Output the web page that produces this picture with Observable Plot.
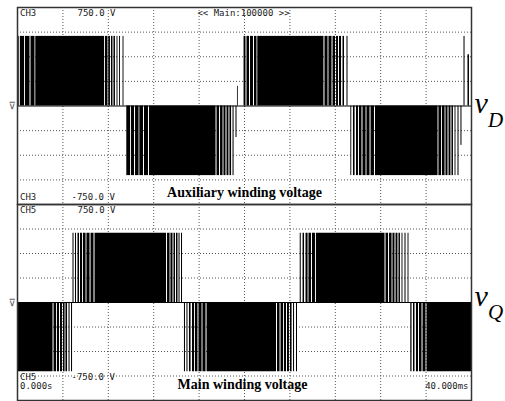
<!DOCTYPE html>
<html><head><meta charset="utf-8">
<script src="https://cdn.jsdelivr.net/npm/d3@7"></script>
<script src="https://cdn.jsdelivr.net/npm/@observablehq/plot@0.6"></script>
<style>html,body{margin:0;padding:0;background:#fff;} #chart svg{display:block;}</style>
</head><body><div id="chart"></div>
<script>
// Time axis: 0–40 ms (4 ms/div), vertical: ±750 V full scale (187.5 V/div)
const xDomain = [0, 40];
const yDomain = [-750, 750];
const gridX = [4, 8, 12, 16, 20, 24, 28, 32, 36];
const gridY = [-562.5, -375, -187.5, 187.5, 375, 562.5];

// Auxiliary winding voltage v_D : [start ms, end ms, volts]
const pulsesD = [
  [0,0.15,530],[0.25,0.62,530],[0.70,1.10,530],[1.19,1.54,530],[1.61,7.67,530],
  [7.75,7.97,530],[8.04,8.19,530],[8.28,8.41,530],[8.50,8.63,530],[8.77,8.85,530],[8.99,9.07,530],[9.30,9.38,530],
  [9.63,9.96,-530],[10.04,10.31,-530],[10.40,10.71,-530],[10.78,11.10,-530],[11.19,11.54,-530],[11.63,17.49,-530],
  [17.58,17.80,-530],[17.89,18.11,-530],[18.19,18.37,-530],[18.46,18.63,-530],[18.72,18.86,-530],[18.99,19.08,-530],[19.25,19.34,-240],
  [19.38,19.45,150],[19.96,20.13,530],[20.22,20.44,530],[20.53,20.79,530],[20.88,21.10,530],[21.17,27.00,530],
  [27.09,27.36,530],[27.44,27.71,530],[27.80,28.02,530],[28.11,28.28,530],[28.37,28.55,530],[28.68,28.81,530],[29.03,29.12,530],
  [29.37,29.45,-530],[29.60,29.74,-530],[29.87,30.04,-530],[30.13,30.35,-530],[30.44,30.71,-530],[30.79,31.06,-530],[31.15,31.45,-530],[31.54,37.05,-530],
  [37.13,37.36,-530],[37.44,37.67,-530],[37.75,37.93,-530],[38.02,38.19,-530],[38.28,38.41,-530],[38.55,38.63,-530],[38.81,38.90,-530],[39.07,39.16,-300],
  [39.34,39.43,530],[39.69,39.82,390]
];

// Main winding voltage v_Q : [start ms, end ms, volts]
const pulsesQ = [
  [0,3.13,-530],[3.22,3.44,-530],[3.52,3.70,-530],[3.79,3.96,-530],[4.05,4.19,-530],[4.27,4.41,-530],[4.54,4.63,-530],[4.76,4.85,-530],
  [4.89,4.98,530],[5.11,5.20,530],[5.33,5.46,530],[5.55,5.73,530],[5.81,6.04,530],[6.12,6.39,530],[6.48,6.74,530],[6.83,13.13,530],
  [13.22,13.44,530],[13.52,13.70,530],[13.79,13.92,530],[14.01,14.14,530],[14.23,14.32,530],[14.45,14.54,530],
  [14.71,14.80,-530],[14.93,15.02,-530],[15.15,15.29,-530],[15.42,15.60,-530],[15.68,15.90,-530],[15.99,16.26,-530],[16.34,16.61,-530],[16.70,22.82,-530],
  [22.91,23.13,-530],[23.22,23.44,-530],[23.52,23.70,-530],[23.79,23.96,-530],[24.05,24.19,-530],[24.32,24.41,-530],[24.58,24.67,-530],
  [24.91,25.00,530],[25.16,25.29,530],[25.42,25.60,530],[25.68,25.90,530],[25.99,26.26,530],[26.34,32.38,530],
  [32.47,32.69,530],[32.78,33.00,530],[33.08,33.26,530],[33.35,33.52,530],[33.61,33.74,530],[33.88,33.96,530],[34.14,34.23,530],[34.41,34.49,530],
  [34.65,34.76,-530],[34.89,35.02,-530],[35.15,35.33,-530],[35.42,35.64,-530],[35.73,35.99,-530],[36.08,40,-530]
];

const chTop = "CH3", chBottom = "CH5";
const scaleTop = "750.0 V", scaleBottom = "-750.0 V";
const timebase = "<< Main:100000 >>";
const tStart = "0.000s", tEnd = "40.000ms";
const titleD = "Auxiliary winding voltage", titleQ = "Main winding voltage";
const symD = ["v", "D"], symQ = ["v", "Q"];
const trigMark = "⊽";

const mono = "DejaVu Sans Mono, monospace";
const serif = "Liberation Serif, Times New Roman, serif";

function monoText(s, o) {
  return Plot.text([s], {text: d => d, fontFamily: mono, fontSize: 9, fill: "#222", lineAnchor: "bottom", textAnchor: "start", ...o});
}

function panel(pulses, height, marginTop, marginBottom, extra) {
  return Plot.plot({
    width: 505, height, marginLeft: 17, marginRight: 34, marginTop, marginBottom,
    x: {domain: xDomain, axis: null},
    y: {domain: yDomain, axis: null},
    style: {background: "white", overflow: "visible"},
    marks: [
      Plot.ruleX(gridX, {stroke: "#555", strokeDasharray: "1,2", strokeWidth: 1}),
      Plot.ruleY(gridY, {stroke: "#555", strokeDasharray: "1,2", strokeWidth: 1}),
      Plot.rect(pulses, {x1: d => d[0], x2: d => d[1], y1: d => 0, y2: d => d[2], fill: "#000"}),
      Plot.ruleY([0], {stroke: "#000", strokeWidth: 1}),
      ...extra,
      Plot.frame({stroke: "#333", strokeWidth: 1.5})
    ]
  });
}

const topPanel = panel(pulsesD, 204, 7, 0, [
  monoText(chTop, {frameAnchor: "top-left", dx: 2.5, dy: 8.7}),
  monoText(scaleTop, {frameAnchor: "top-left", dx: 60, dy: 8.7}),
  monoText(timebase, {frameAnchor: "top", dx: -1, dy: 8.7, textAnchor: "middle"}),
  monoText(chTop, {frameAnchor: "bottom-left", dx: 2.5, dy: -5}),
  monoText(scaleBottom, {frameAnchor: "bottom-left", dx: 54, dy: -5}),
  Plot.text([titleD], {text: d => d, frameAnchor: "bottom", dy: -8, fontFamily: serif, fontWeight: "bold", fontSize: 14, fill: "#000", lineAnchor: "bottom"}),
  Plot.text([symD[0]], {text: d => d, frameAnchor: "top-right", dx: 3, dy: 105, fontFamily: serif, fontStyle: "italic", fontSize: 30, fill: "#000", textAnchor: "start", lineAnchor: "bottom"}),
  Plot.text([symD[1]], {text: d => d, frameAnchor: "top-right", dx: 16.5, dy: 119, fontFamily: serif, fontStyle: "italic", fontSize: 21, fill: "#000", textAnchor: "start", lineAnchor: "bottom"}),
  Plot.text([trigMark], {text: d => d, frameAnchor: "left", dx: -9, fontFamily: "DejaVu Sans", fontSize: 10, fill: "#666", lineAnchor: "middle"})
]);

const bottomPanel = panel(pulsesQ, 197, 0, 1, [
  monoText(chBottom, {frameAnchor: "top-left", dx: 2.5, dy: 8}),
  monoText(scaleTop, {frameAnchor: "top-left", dx: 60, dy: 8}),
  monoText(chBottom, {frameAnchor: "bottom-left", dx: 2.5, dy: -21}),
  monoText(scaleBottom, {frameAnchor: "bottom-left", dx: 54, dy: -21}),
  monoText(tStart, {frameAnchor: "bottom-left", dx: 2.5, dy: -11.7}),
  monoText(tEnd, {frameAnchor: "bottom-right", dx: -3, dy: -11.7, textAnchor: "end"}),
  Plot.text([titleQ], {text: d => d, frameAnchor: "bottom", dx: -2, dy: -12, fontFamily: serif, fontWeight: "bold", fontSize: 14, fill: "#000", lineAnchor: "bottom"}),
  Plot.text([symQ[0]], {text: d => d, frameAnchor: "top-right", dx: 3, dy: 101, fontFamily: serif, fontStyle: "italic", fontSize: 30, fill: "#000", textAnchor: "start", lineAnchor: "bottom"}),
  Plot.text([symQ[1]], {text: d => d, frameAnchor: "top-right", dx: 16.5, dy: 114, fontFamily: serif, fontStyle: "italic", fontSize: 21, fill: "#000", textAnchor: "start", lineAnchor: "bottom"}),
  Plot.text([trigMark], {text: d => d, frameAnchor: "left", dx: -9, fontFamily: "DejaVu Sans", fontSize: 10, fill: "#666", lineAnchor: "middle"})
]);

document.getElementById("chart").append(topPanel, bottomPanel);
</script></body></html>
